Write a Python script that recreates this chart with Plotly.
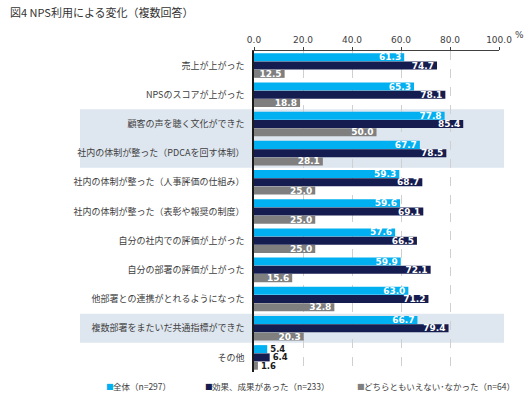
import plotly.graph_objects as go

categories = [
    "売上が上がった",
    "NPSのスコアが上がった",
    "顧客の声を聴く文化ができた",
    "社内の体制が整った（PDCAを回す体制）",
    "社内の体制が整った（人事評価の仕組み）",
    "社内の体制が整った（表彰や報奨の制度）",
    "自分の社内での評価が上がった",
    "自分の部署の評価が上がった",
    "他部署との連携がとれるようになった",
    "複数部署をまたいだ共通指標ができた",
    "その他",
]
all_vals = [61.3, 65.3, 77.8, 67.7, 59.3, 59.6, 57.6, 59.9, 63.0, 66.7, 5.4]
effect_vals = [74.7, 78.1, 85.4, 78.5, 68.7, 69.1, 66.5, 72.1, 71.2, 79.4, 6.4]
neutral_vals = [12.5, 18.8, 50.0, 28.1, 25.0, 25.0, 25.0, 15.6, 32.8, 20.3, 1.6]
series_names = ["全体（n=297）", "効果、成果があった（n=233）", "どちらともいえない･なかった（n=64）"]
colors = ["#00B0F0", "#151C4F", "#7F7F7F"]
tick_vals = [0, 20, 40, 60, 80, 100]

W, H = 529, 399
ML, MR, MT, MB = 254, 30, 51, 27
PW = W - ML - MR
PH = H - MT - MB

fig = go.Figure()
for name, vals, col in zip(series_names, [all_vals, effect_vals, neutral_vals], colors):
    fig.add_trace(go.Bar(
        y=categories, x=vals, name=name, orientation="h",
        marker=dict(color=col, line=dict(width=0)),
        text=[f"{v:.1f}" for v in vals],
        textposition=["inside"] * (len(vals) - 1) + ["outside"],
        insidetextanchor="end",
        insidetextfont=dict(family="DejaVu Sans", size=9, color="white", weight="bold"),
        outsidetextfont=dict(family="DejaVu Sans", size=8.5, color="#1a1a1a", weight="bold"),
        constraintext="none",
        cliponaxis=False,
        showlegend=False,
        hoverinfo="skip",
    ))

shapes = []
def px2x(p):
    return (p - ML) / PW
def px2y(p):
    return (MT + PH - p) / PH
for a, b in [(1.5, 3.5), (8.5, 9.5)]:
    shapes.append(dict(type="rect", xref="paper", yref="y", x0=px2x(80), x1=px2x(504),
                       y0=a, y1=b, fillcolor="#DEE6EF", line=dict(width=0), layer="below"))

annotations = [
    dict(text="図4 NPS利用による変化（複数回答）", xref="paper", yref="paper",
         x=px2x(8), y=px2y(12), xanchor="left", yanchor="middle", showarrow=False,
         font=dict(family="Noto Sans CJK JP", size=11, color="#333333")),
    dict(text="%", xref="paper", yref="paper", x=px2x(519), y=px2y(35),
         xanchor="center", yanchor="middle", showarrow=False,
         font=dict(family="DejaVu Sans", size=9, color="#404040")),
]
leg_y = px2y(386)
for name, col, mx in zip(series_names, colors, [104, 203, 355]):
    annotations.append(dict(text="■", xref="paper", yref="paper", x=px2x(mx), y=leg_y,
                            xanchor="left", yanchor="middle", showarrow=False,
                            font=dict(family="DejaVu Sans", size=8, color=col)))
    annotations.append(dict(text=name, xref="paper", yref="paper", x=px2x(mx + 7), y=leg_y,
                            xanchor="left", yanchor="middle", showarrow=False,
                            font=dict(family="Noto Sans CJK JP", size=8.5, color="#404040")))

fig.update_layout(
    width=W, height=H,
    margin=dict(l=ML, r=MR, t=MT, b=MB, autoexpand=False),
    paper_bgcolor="white", plot_bgcolor="rgba(0,0,0,0)",
    barmode="group", bargap=0.15, bargroupgap=0.03,
    shapes=shapes, annotations=annotations,
    xaxis=dict(side="top", range=[0, 100], tickvals=tick_vals,
               ticktext=[f"{v:.1f}" for v in tick_vals],
               showgrid=True, gridcolor="#D0D0D0", griddash="dash", gridwidth=1,
               zeroline=False, showline=True, linecolor="#404040", linewidth=1,
               ticks="outside", ticklen=3, tickcolor="#404040",
               tickfont=dict(family="DejaVu Sans", size=9, color="#404040")),
    yaxis=dict(autorange="reversed", showgrid=False, zeroline=False,
               showline=True, linecolor="#1a1a1a", linewidth=1.5,
               ticks="", ticklabelstandoff=6,
               tickfont=dict(family="Noto Sans CJK JP", size=9, color="#404040")),
)

fig.write_html("out.html", config={"displayModeBar": False},
               post_script="document.body.style.margin='0px';")
